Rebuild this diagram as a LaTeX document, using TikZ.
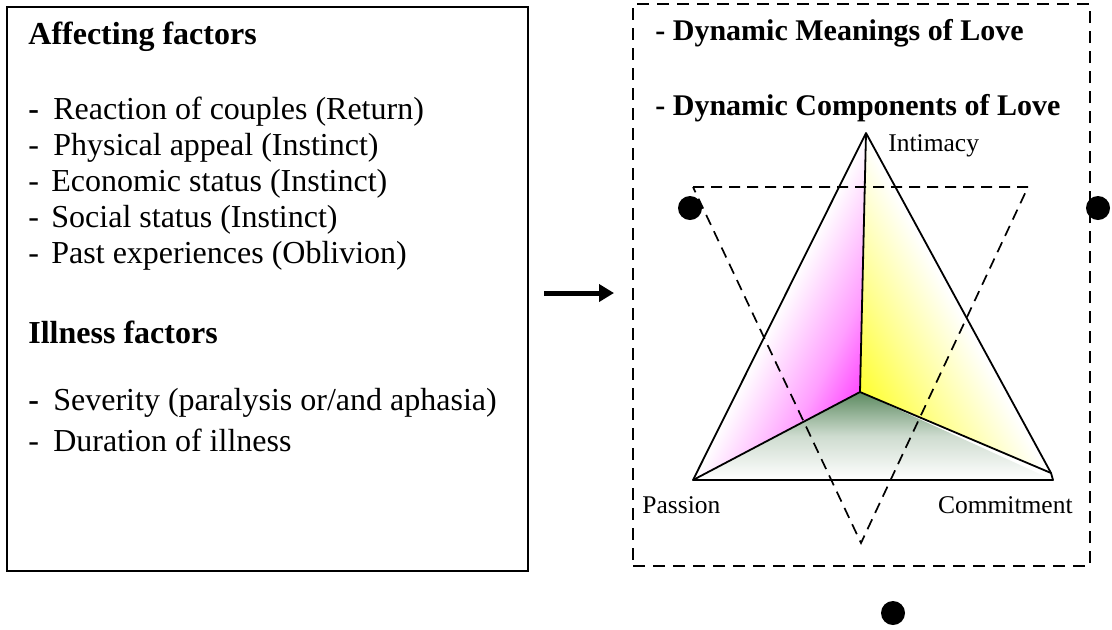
\documentclass[tikz,border=0pt]{standalone}
\usepackage{fontspec}
\setmainfont{Liberation Serif}
\usetikzlibrary{arrows.meta, positioning}

\definecolor{lovegreen}{RGB}{92,138,96}
\pgfdeclareverticalshading{magentaface}{100bp}{color(0bp)=(magenta); color(18bp)=(magenta); color(35bp)=(magenta!38); color(50bp)=(white); color(100bp)=(white)}
\pgfdeclareverticalshading{yellowface}{100bp}{color(0bp)=(yellow); color(18bp)=(yellow); color(35bp)=(yellow!45); color(50bp)=(white); color(100bp)=(white)}

\begin{document}
\begin{tikzpicture}[
    x=0.5pt, y=-0.5pt,
    factorbox/.style={rectangle, draw=black, line width=1.2pt, minimum width=260.5pt, minimum height=282pt, inner sep=0pt},
    lovebox/.style={rectangle, draw=black, line width=1pt, dash pattern=on 6pt off 4pt, minimum width=228.5pt, minimum height=281pt, inner sep=0pt},
    item/.style={anchor=west, inner sep=0pt, font=\fontsize{16}{18}\selectfont},
    head/.style={item, font=\fontsize{16}{18}\selectfont\bfseries},
    lovehead/.style={item, font=\fontsize{15}{18}\selectfont\bfseries},
    corner/.style={inner sep=0pt, font=\fontsize{12.75}{15}\selectfont},
    edge/.style={line width=0.9pt, line join=round},
    guide/.style={line width=0.85pt, dash pattern=on 5.5pt off 3.5pt},
    dot/.style={circle, fill=black, minimum size=12pt, inner sep=0pt},
    arrow/.style={-{Triangle[length=7.5pt, width=8.5pt]}, line width=2.5pt}
]
\useasboundingbox (0,0) rectangle (1112,629);

% Affecting and illness factors
\node[factorbox] (factors) at (267.5,289) {};
\node[head] (affhead) at (28,37) {Affecting factors};
\node[item] (reaction) at (28,112) {\makebox[0.78em][l]{\textbf{-}}Reaction of couples (Return)};
\node[item] (physical) at (28,148) {\makebox[0.78em][l]{-}Physical appeal (Instinct)};
\node[item] (economic) at (28,184) {\makebox[0.72em][l]{-}Economic status (Instinct)};
\node[item] (social) at (28,220) {\makebox[0.72em][l]{-}Social status (Instinct)};
\node[item] (past) at (28,256) {\makebox[0.72em][l]{-}Past experiences (Oblivion)};
\node[head] (illhead) at (28,332) {Illness factors};
\node[item] (severity) at (28,403) {\makebox[0.78em][l]{\textbf{-}}Severity (paralysis or/and aphasia)};
\node[item] (duration) at (28,440) {\makebox[0.78em][l]{-}Duration of illness};

% Dynamics of love
\node[lovebox] (love) at (861.5,285) {};
\node[lovehead] (meanings) at (655,33) {- Dynamic Meanings of Love};
\node[lovehead] (components) at (655,108) {- Dynamic Components of Love};

% Triangle of love
\coordinate (apex) at (866,133);
\coordinate (pas) at (693,480);
\coordinate (com) at (1053,480);
\coordinate (comtip) at (1051,473);
\coordinate (mid) at (860,392);

\shade[shading=magentaface, shading angle=63.5] (apex) -- (mid) -- (pas) -- cycle;
\shade[shading=yellowface, shading angle=-61.5] (apex) -- (comtip) -- (mid) -- cycle;
\shade[top color=lovegreen, bottom color=white, middle color=lovegreen!30] (mid) -- (pas) -- (com) -- cycle;
\draw[edge] (apex) -- (pas) -- (com) -- (comtip) -- cycle;
\draw[edge] (pas) -- (mid) -- (comtip);
\draw[edge] (mid) -- (apex);

% Inverted triangle
\coordinate (topleft) at (693,187);
\coordinate (topright) at (1028,187);
\coordinate (bottom) at (861,543);
\draw[guide] (topleft) -- (topright) -- (bottom) -- cycle;

\node[corner, anchor=west] (intimacy) at (888,146) {Intimacy};
\node[corner, anchor=west] (passion) at (642,505) {Passion};
\node[corner, anchor=east] (commitment) at (1073,505) {Commitment};

% Dots
\node[dot] (dotleft) at (690,208) {};
\node[dot] (dotright) at (1098,208) {};
\node[dot] (dotbottom) at (893,613) {};

% Connection
\coordinate (arrowlevel) at (0,293);
\draw[arrow, shorten <=7.5pt, shorten >=9pt] (factors.east |- arrowlevel) -- (love.west |- arrowlevel);

\end{tikzpicture}
\end{document}
